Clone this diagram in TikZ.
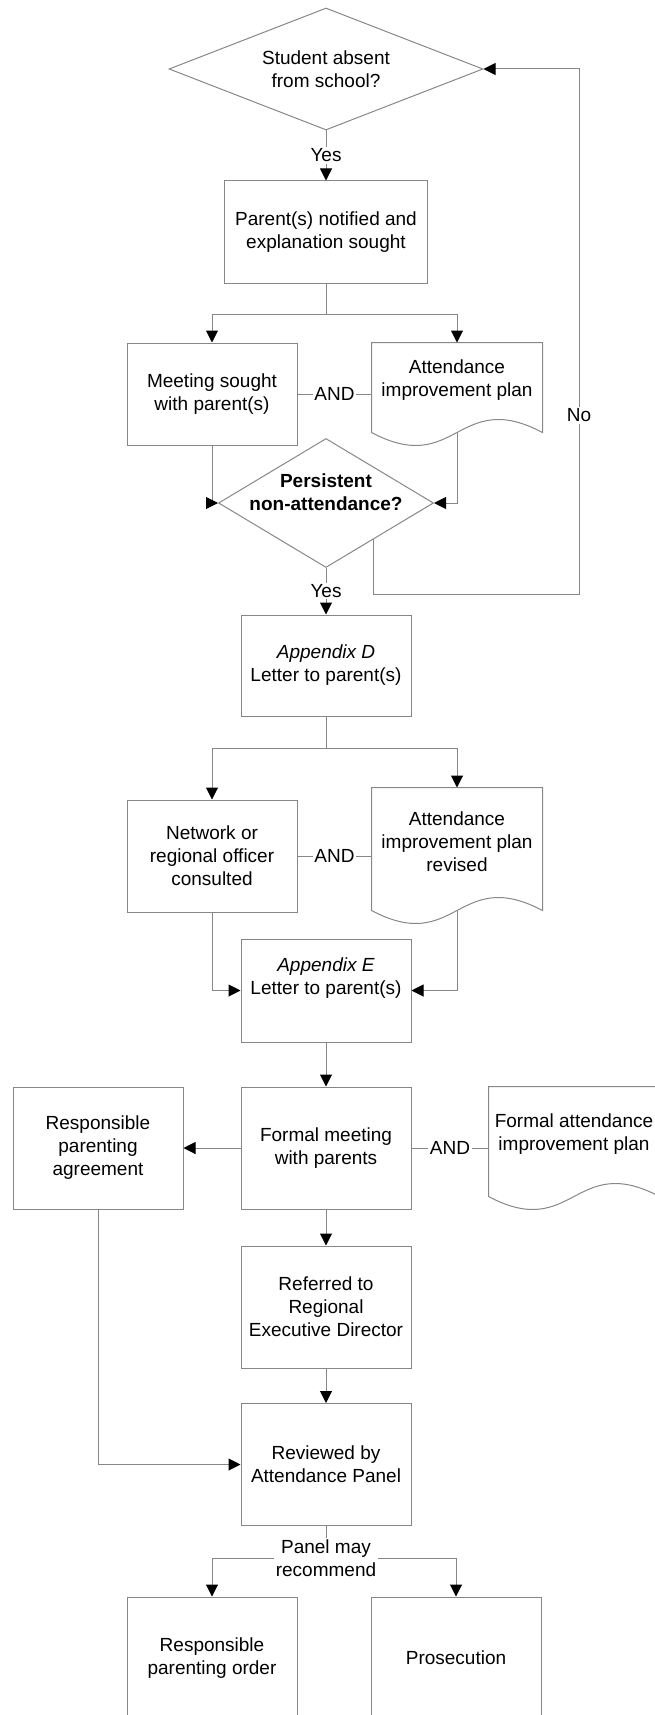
\documentclass[tikz,border=0pt]{standalone}
\usepackage{fontspec}
\setmainfont{Liberation Sans}
\usetikzlibrary{shapes.geometric,arrows.meta,calc}
\definecolor{linegray}{RGB}{135,135,135}
\newcommand\docframe[1]{%
    \draw[linegray] (#1.north west) -- (#1.north east) -- ([yshift=-14pt]#1.south east)
        .. controls +(-85,-45) and +(85,45) .. ([yshift=-14pt]#1.south west) -- cycle;}

\begin{document}
\begin{tikzpicture}[x=1pt, y=-1pt, line width=1pt,
    every node/.style={font=\fontsize{19}{23}\selectfont, align=center, inner xsep=0pt},
    procbox/.style={draw=linegray, rectangle, minimum width=170pt, minimum height=122pt},
    decision/.style={draw=linegray, diamond, inner sep=0pt},
    docbox/.style={rectangle, minimum width=170pt},
    flow/.style={draw=linegray, -{Triangle[length=12pt, width=12pt, color=black]}},
    joinline/.style={draw=linegray},
    cond/.style={fill=white, inner sep=1.5pt}]
    \useasboundingbox (0,0) rectangle (654,1715);
    \node[decision, minimum width=314pt, minimum height=122pt, aspect=2.5] (absent) at (326,69) {Student absent\\from school?};
    \node[procbox, minimum width=203pt, minimum height=102pt] (notified) at (326,232) {Parent(s) notified and\\explanation sought};
    \node[procbox, minimum height=102pt] (meeting) at (212,394) {Meeting sought\\with parent(s)};
    \node[docbox, minimum height=75pt] (plan) at (457,380.5) {Attendance\\improvement plan};
    \node[decision, minimum width=215pt, minimum height=129pt, aspect=1.67,
        label={[font=\fontsize{19}{23}\selectfont\bfseries, yshift=11pt]center:Persistent\\non-attendance?}] (persist) at (326,503) {};
    \node[procbox, minimum height=101pt] (appD) at (326,665.5) {\textit{Appendix D}\\Letter to parent(s)};
    \node[procbox, minimum height=112pt] (network) at (212,856) {Network or\\regional officer\\consulted};
    \node[docbox, minimum height=108pt] (revised) at (457,842) {Attendance\\improvement plan\\revised};
    \node[procbox, minimum height=103pt, text depth=29pt] (appE) at (326,990.5) {\textit{Appendix E}\\Letter to parent(s)};
    \node[procbox] (formal) at (326,1148) {Formal meeting\\with parents};
    \node[procbox] (agreement) at (98,1148) {Responsible\\parenting\\agreement};
    \node[docbox, minimum height=95pt] (formalplan) at (574,1134.5) {Formal attendance\\improvement plan};
    \node[procbox] (referred) at (326,1307) {Referred to\\Regional\\Executive Director};
    \node[procbox] (reviewed) at (326,1464.5) {Reviewed by\\Attendance Panel};
    \node[procbox] (order) at (212,1658) {Responsible\\parenting order};
    \node[procbox] (prosecution) at (456,1658) {Prosecution};
    \docframe{plan}
    \docframe{revised}
    \docframe{formalplan}

    \draw[flow] (absent.south) -- node[cond] {Yes} (notified.north);
    \draw[flow] (notified.south) -- ++(0,31) coordinate (fork1) -| (meeting.north);
    \draw[flow] (fork1) -| (plan.north);
    \draw[joinline] (meeting.east) -- node[cond] {AND} (meeting.east -| plan.west);
    \draw[flow] (meeting.south) |- (persist.west);
    \draw[flow] ([yshift=-14pt]plan.south) |- (persist.east);
    \draw[flow] (persist.south) -- node[cond] {Yes} (appD.north);
    \coordinate (loopcorner) at (579,594);
    \draw[flow] ($(persist.east)!.56!(persist.south)$) |- (loopcorner) |- node[cond, pos=.17] {No} (absent.east);
    \draw[flow] (appD.south) -- ++(0,32) coordinate (fork2) -| (network.north);
    \draw[flow] (fork2) -| (revised.north);
    \draw[joinline] (network.east) -- node[cond] {AND} (network.east -| revised.west);
    \draw[flow] (network.south) |- (appE.west);
    \draw[flow] ([yshift=-14pt]revised.south) |- (appE.east);
    \draw[flow] (appE.south) -- (formal.north);
    \draw[flow] (formal.west) -- (agreement.east);
    \draw[joinline] (formal.east) -- node[cond] {AND} (formal.east -| formalplan.west);
    \draw[flow] (formal.south) -- (referred.north);
    \draw[flow] (referred.south) -- (reviewed.north);
    \draw[flow] (agreement.south) |- (reviewed.west);
    \draw[flow] (reviewed.south) -- ++(0,32) coordinate (fork3) -| (order.north);
    \draw[flow] (fork3) -| (prosecution.north);
    \node[cond] (panel) at (fork3) {Panel may\\recommend};
\end{tikzpicture}
\end{document}
